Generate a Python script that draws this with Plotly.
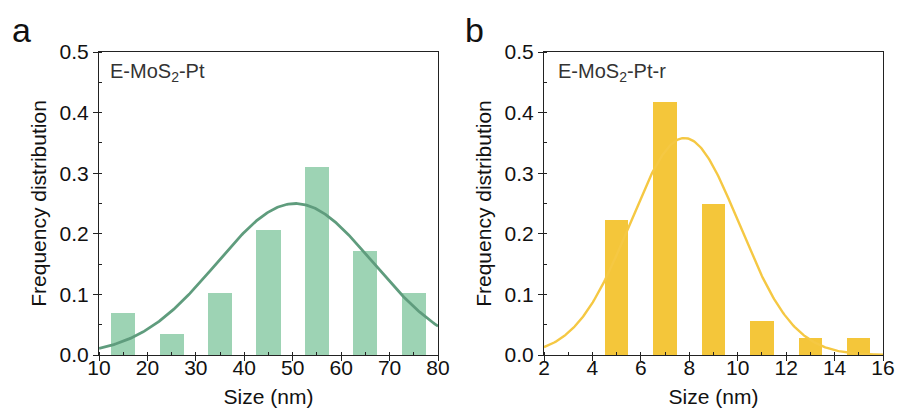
import numpy as np
import plotly.graph_objects as go
from plotly.subplots import make_subplots

# ---- data ----
size_a = [15, 25, 35, 45, 55, 65, 75]
freq_a = [0.069, 0.034, 0.103, 0.207, 0.310, 0.172, 0.103]
fit_a_center = 50.5
fit_a_peak = 0.25
fit_a_sigma = 16.2

size_b = [5, 7, 9, 11, 13, 15]
freq_b = [0.222, 0.417, 0.250, 0.056, 0.028, 0.028]
fit_b_center = 7.8
fit_b_peak = 0.358
fit_b_sigma = 2.25

label_a = "E-MoS<sub>2</sub>-Pt"
label_b = "E-MoS<sub>2</sub>-Pt-r"

def gauss(x, c, a, s):
    return a * np.exp(-(x - c) ** 2 / (2 * s ** 2))

xa = np.linspace(10, 80, 300)
xb = np.linspace(2, 16, 300)

FONT = "Arial, Liberation Sans, Helvetica, sans-serif"
GREEN_BAR = "#9dd3b4"
GREEN_LINE = "#5f9c7d"
YEL_BAR = "#f4c63a"
YEL_LINE = "#f5c843"

fig = make_subplots(rows=1, cols=2)
fig.add_trace(go.Bar(x=size_a, y=freq_a, width=5, marker=dict(color=GREEN_BAR, line=dict(width=0)),
                     showlegend=False), row=1, col=1)
fig.add_trace(go.Scatter(x=xa, y=gauss(xa, fit_a_center, fit_a_peak, fit_a_sigma), mode="lines",
                         line=dict(color=GREEN_LINE, width=2.8), showlegend=False), row=1, col=1)
# in panel b the fit curve sits behind the bars
fig.add_trace(go.Scatter(x=xb, y=gauss(xb, fit_b_center, fit_b_peak, fit_b_sigma), mode="lines",
                         line=dict(color=YEL_LINE, width=2.4), showlegend=False), row=1, col=2)
fig.add_trace(go.Bar(x=size_b, y=freq_b, width=0.96, marker=dict(color=YEL_BAR, line=dict(width=0)),
                     showlegend=False), row=1, col=2)

W, H = 899, 410
def px(x):
    return x / W
def py(y):
    return (H - y) / H

ydom = [py(355), py(52)]

common_axis = dict(showline=True, linecolor="#222", linewidth=1, mirror=True,
                   ticks="outside", ticklen=5, tickwidth=1, tickcolor="#222",
                   showgrid=False, zeroline=False, ticklabeloverflow="allow",
                   tickfont=dict(family=FONT, size=21, color="#111"),
                   minor=dict(ticks="inside", ticklen=3, tickwidth=1, tickcolor="#222", showgrid=False))

fig.update_xaxes(**common_axis)
fig.update_yaxes(**common_axis)

title_font = dict(family=FONT, size=21, color="#111")

fig.update_layout(
    width=W, height=H,
    margin=dict(l=0, r=0, t=0, b=0),
    plot_bgcolor="white", paper_bgcolor="white",
    bargap=0,
    xaxis=dict(domain=[px(99), px(438)], range=[10, 80], dtick=10, tick0=10,
               minor=dict(dtick=5, tick0=10), ticklabelstandoff=-11,
               title=dict(text="Size (nm)", font=title_font, standoff=11),
               automargin=False),
    xaxis2=dict(domain=[px(544), px(883)], range=[2, 16], dtick=2, tick0=2,
                minor=dict(dtick=1, tick0=2), ticklabelstandoff=-11,
                title=dict(text="Size (nm)", font=title_font, standoff=11),
                automargin=False),
    yaxis=dict(domain=ydom, range=[0, 0.5], dtick=0.1, tickformat=".1f",
               minor=dict(dtick=0.05),
               title=dict(text="Frequency distribution", font=title_font, standoff=7),
               automargin=False),
    yaxis2=dict(domain=ydom, range=[0, 0.5], dtick=0.1, tickformat=".1f",
                minor=dict(dtick=0.05),
                title=dict(text="Frequency distribution", font=title_font, standoff=7),
                automargin=False),
    annotations=[
        dict(text=label_a, xref="paper", yref="paper", x=px(108), y=py(72),
             xanchor="left", yanchor="middle", showarrow=False,
             font=dict(family=FONT, size=20, color="#333")),
        dict(text=label_b, xref="paper", yref="paper", x=px(556), y=py(72),
             xanchor="left", yanchor="middle", showarrow=False,
             font=dict(family=FONT, size=20, color="#333")),
        dict(text="a", xref="paper", yref="paper", x=px(10), y=py(9),
             xanchor="left", yanchor="top", showarrow=False,
             font=dict(family=FONT, size=34, color="#111")),
        dict(text="b", xref="paper", yref="paper", x=px(463), y=py(9),
             xanchor="left", yanchor="top", showarrow=False,
             font=dict(family=FONT, size=34, color="#111")),
    ],
)

fig.write_html("out.html",
               config={"displayModeBar": False},
               post_script="document.body.style.margin='0';document.body.style.padding='0';"
                           "document.body.style.overflow='hidden';")
